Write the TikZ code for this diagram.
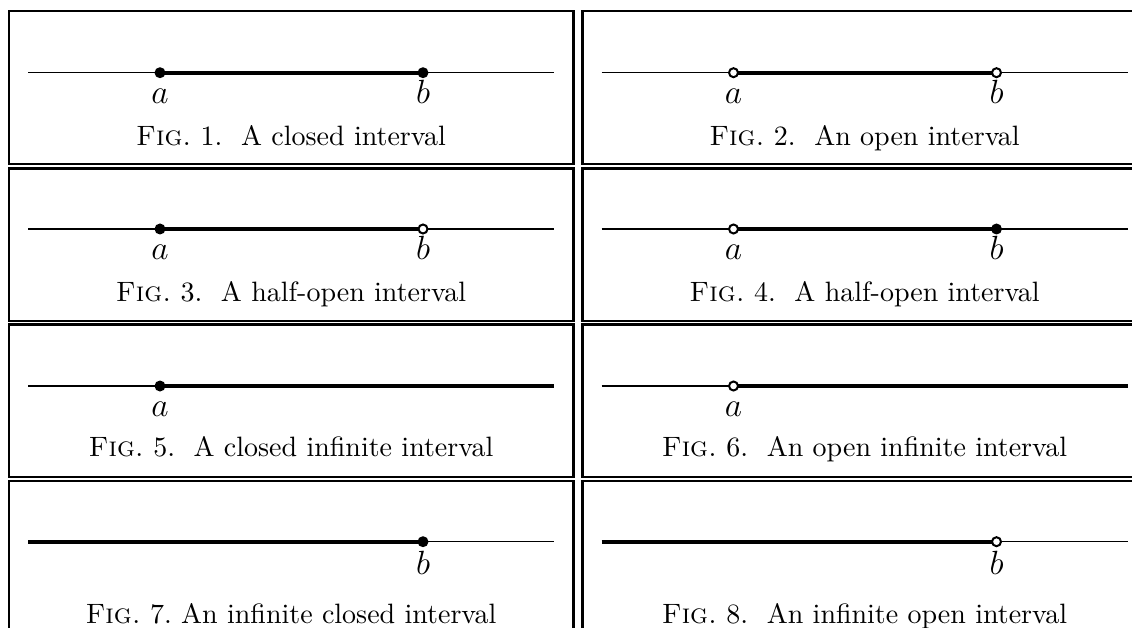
\documentclass[tikz,border=0pt]{standalone}
\usepackage{fix-cm}
\usepackage{fontspec}
\begin{document}
\begin{tikzpicture}[x=1pt,y=-1pt,
  boxline/.style={line width=2.4pt},
  thinln/.style={line width=1.2pt},
  thickln/.style={line width=4pt},
  closedpt/.style={circle,fill=black,inner sep=0pt,minimum size=11pt},
  openpt/.style={circle,draw=black,fill=white,line width=2pt,inner sep=0pt,minimum size=9pt},
  lab/.style={anchor=base,inner sep=0pt,font=\fontsize{12}{14}\selectfont,scale=2.8},
  captxt/.style={anchor=base,inner sep=0pt,font=\fontsize{10}{12}\selectfont,scale=2.8}]
\useasboundingbox (0,0) rectangle (1132,628);
\clip (0,0) rectangle (1132,628);
% boxes
\draw[boxline] (9,11) rectangle (573.5,164);
\draw[boxline] (582.5,11) rectangle (1160,164);
\draw[boxline] (9,168.5) rectangle (573.5,321);
\draw[boxline] (582.5,168.5) rectangle (1160,321);
\draw[boxline] (9,324.5) rectangle (573.5,477);
\draw[boxline] (582.5,324.5) rectangle (1160,477);
\draw[boxline] (9,481) rectangle (573.5,645);
\draw[boxline] (582.5,481) rectangle (1160,645);
% ---------- panel 1
\coordinate (l1) at (28,72.7); \coordinate (r1) at (554,72.7);
\coordinate (pa1) at (160,72.7); \coordinate (pb1) at (423,72.7);
\draw[thinln] (l1) -- (r1);
\draw[thickln] (pa1) -- (pb1);
\node[closedpt] (a1) at (pa1) {};
\node[closedpt] (b1) at (pb1) {};
\node[lab] (la1) at (160,104) {$a$};
\node[lab] (lb1) at (423,104) {$b$};
\node[captxt] (c1) at (291,145.5) {\textsc{Fig.}~1.\ \ A closed interval};
% ---------- panel 2
\coordinate (l2) at (601.5,229); \coordinate (r2) at (1127.5,229);
\coordinate (pa2) at (733.5,72.7); \coordinate (pb2) at (996.5,72.7);
\coordinate (l2) at (601.5,72.7); \coordinate (r2) at (1127.5,72.7);
\draw[thinln] (l2) -- (r2);
\draw[thickln] (pa2) -- (pb2);
\node[openpt] (a2) at (pa2) {};
\node[openpt] (b2) at (pb2) {};
\node[lab] (la2) at (733.5,104) {$a$};
\node[lab] (lb2) at (996.5,104) {$b$};
\node[captxt] (c2) at (864.5,145.5) {\textsc{Fig.}~2.\ \ An open interval};
% ---------- panel 3
\coordinate (l3) at (28,229); \coordinate (r3) at (554,229);
\coordinate (pa3) at (160,229); \coordinate (pb3) at (423,229);
\draw[thinln] (l3) -- (r3);
\draw[thickln] (pa3) -- (pb3);
\node[closedpt] (a3) at (pa3) {};
\node[openpt] (b3) at (pb3) {};
\node[lab] (la3) at (160,260) {$a$};
\node[lab] (lb3) at (423,260) {$b$};
\node[captxt] (c3) at (291,301.5) {\textsc{Fig.}~3.\ \ A half-open interval};
% ---------- panel 4
\coordinate (l4) at (601.5,229); \coordinate (r4) at (1127.5,229);
\coordinate (pa4) at (733.5,229); \coordinate (pb4) at (996.5,229);
\draw[thinln] (l4) -- (r4);
\draw[thickln] (pa4) -- (pb4);
\node[openpt] (a4) at (pa4) {};
\node[closedpt] (b4) at (pb4) {};
\node[lab] (la4) at (733.5,260) {$a$};
\node[lab] (lb4) at (996.5,260) {$b$};
\node[captxt] (c4) at (864.5,301.5) {\textsc{Fig.}~4.\ \ A half-open interval};
% ---------- panel 5
\coordinate (l5) at (28,386); \coordinate (r5) at (554,386);
\coordinate (pa5) at (160,386);
\draw[thinln] (l5) -- (pa5);
\draw[thickln] (pa5) -- (r5);
\node[closedpt] (a5) at (pa5) {};
\node[lab] (la5) at (160,416) {$a$};
\node[captxt] (c5) at (291,456.5) {\textsc{Fig.}~5.\ \ A closed infinite interval};
% ---------- panel 6
\coordinate (l6) at (601.5,386); \coordinate (r6) at (1127.5,386);
\coordinate (pa6) at (733.5,386);
\draw[thinln] (l6) -- (pa6);
\draw[thickln] (pa6) -- (r6);
\node[openpt] (a6) at (pa6) {};
\node[lab] (la6) at (733.5,416) {$a$};
\node[captxt] (c6) at (864.5,456.5) {\textsc{Fig.}~6.\ \ An open infinite interval};
% ---------- panel 7
\coordinate (l7) at (28,541.7); \coordinate (r7) at (554,541.7);
\coordinate (pb7) at (423,541.7);
\draw[thinln] (pb7) -- (r7);
\draw[thickln] (l7) -- (pb7);
\node[closedpt] (b7) at (pb7) {};
\node[lab] (lb7) at (423,574) {$b$};
\node[captxt] (c7) at (291,623) {\textsc{Fig.}~7.\ An infinite closed interval};
% ---------- panel 8
\coordinate (l8) at (601.5,541.7); \coordinate (r8) at (1127.5,541.7);
\coordinate (pb8) at (996.5,541.7);
\draw[thinln] (pb8) -- (r8);
\draw[thickln] (l8) -- (pb8);
\node[openpt] (b8) at (pb8) {};
\node[lab] (lb8) at (996.5,574) {$b$};
\node[captxt] (c8) at (864.5,623) {\textsc{Fig.}~8.\ \ An infinite open interval};
\end{tikzpicture}
\end{document}
